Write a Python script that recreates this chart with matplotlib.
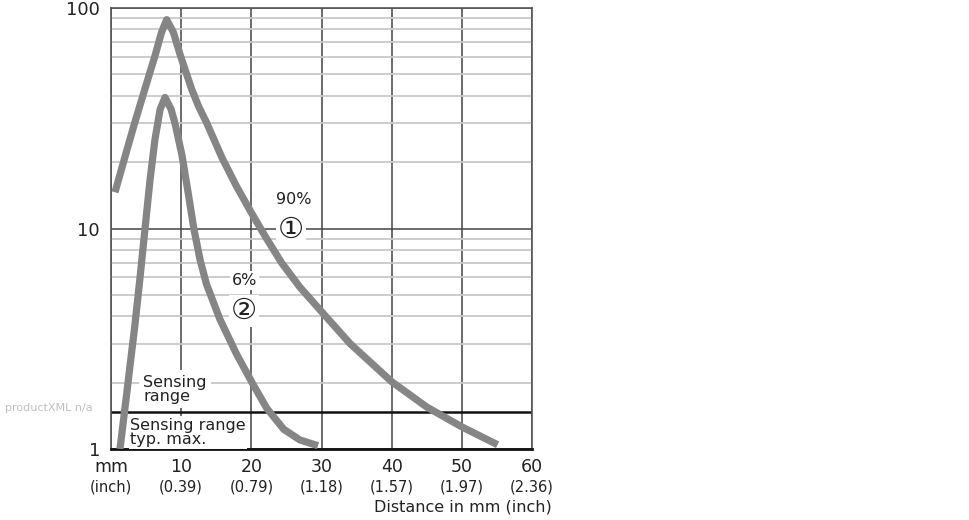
import matplotlib
matplotlib.use("Agg")
import matplotlib.pyplot as plt
from matplotlib.ticker import NullFormatter
from matplotlib.transforms import offset_copy

plt.rcParams['font.family'] = ['DejaVu Sans', 'Noto Sans CJK JP']

# Curve 1: 90% reflectance (distance mm, excess gain)
dist_90 = [0.57, 2.3, 3.4, 4.6, 6.27, 7.2, 7.93, 8.9, 9.9, 11.5, 12.5, 13.6, 15.8, 17.9, 20.0,
           21.9, 24.3, 26.9, 30.0, 34.1, 40.0, 45.0, 50.0, 55.1]
sig_90 = [14.6, 22.9, 30.3, 40.6, 60.7, 77.5, 88.5, 77.5, 60.7, 42.8, 35.7, 30.3, 21.0, 15.5, 11.8,
          9.3, 7.0, 5.43, 4.2, 3.0, 2.02, 1.55, 1.26, 1.045]

# Curve 2: 6% reflectance
dist_6 = [1.28, 2.2, 3.0, 3.4, 4.13, 4.85, 5.56, 6.27, 7.0, 7.7, 8.55, 9.1, 10.1, 11.0, 11.8,
          12.7, 13.6, 15.5, 17.9, 20.3, 22.2, 24.6, 26.9, 29.5]
sig_6 = [1.0, 1.74, 2.85, 3.63, 5.96, 10.0, 16.6, 25.4, 34.7, 39.3, 34.8, 30.2, 21.6, 14.5, 10.0,
         7.2, 5.6, 3.89, 2.69, 1.95, 1.53, 1.23, 1.10, 1.035]

threshold = 1.47

x_ticks = [0, 10, 20, 30, 40, 50, 60]
x_mm_labels = ["mm", "10", "20", "30", "40", "50", "60"]
x_inch_labels = ["(inch)", "(0.39)", "(0.79)", "(1.18)", "(1.57)", "(1.97)", "(2.36)"]
y_ticks = [1, 10, 100]
y_labels = ["1", "10", "100"]

fig = plt.figure(figsize=(9.7, 5.2), dpi=100)
ax = fig.add_axes([111/970, 71/520, 421/970, 441/520])
ax.set_yscale('log')
ax.set_xlim(0, 60)
ax.set_ylim(1, 100)

ax.set_xticks(x_ticks)
ax.set_xticklabels([])
ax.set_yticks(y_ticks)
ax.set_yticklabels(y_labels, fontsize=13, color='#222222')
ax.yaxis.set_minor_formatter(NullFormatter())
ax.tick_params(which='both', length=0)
ax.tick_params(axis='y', pad=8)
ax.grid(True, which='minor', axis='y', color='#c8c8c8', lw=1.3, zorder=0)
ax.grid(True, which='major', axis='y', color='#444444', lw=1.1, zorder=0.5)
ax.grid(True, which='major', axis='x', color='#444444', lw=1.1, zorder=0.5)

trans = ax.get_xaxis_transform()
t1 = offset_copy(trans, fig=fig, x=0, y=-18, units='dots')
t2 = offset_copy(trans, fig=fig, x=0, y=-38, units='dots')
for xv, a, b in zip(x_ticks, x_mm_labels, x_inch_labels):
    ax.text(xv, 0, a, transform=t1, fontsize=12.5, ha='center', va='center', color='#222222', clip_on=False)
    ax.text(xv, 0, b, transform=t2, fontsize=10.5, ha='center', va='center', color='#222222', clip_on=False)

for s in ['left', 'top', 'right']:
    ax.spines[s].set_color('#555555')
    ax.spines[s].set_linewidth(1.2)
ax.spines['bottom'].set_color('#111111')
ax.spines['bottom'].set_linewidth(2)

ax.axhline(threshold, color='#111111', lw=1.8, zorder=2)

ax.plot(dist_90, sig_90, color='#858585', lw=5.2, solid_capstyle='butt', solid_joinstyle='round', zorder=3)
ax.plot(dist_6, sig_6, color='#858585', lw=5.2, solid_capstyle='butt', solid_joinstyle='round', zorder=3)

wb = dict(facecolor='white', edgecolor='none', pad=1.5)
ax.text(26.1, 13.5, "90%", fontsize=11.5, ha='center', va='center', color='#222222', bbox=wb, zorder=4)
ax.text(25.6, 9.85, "①", fontsize=21, ha='center', va='center', color='#222222', bbox=wb, zorder=4)
ax.text(19.0, 5.8, "6%", fontsize=11.5, ha='center', va='center', color='#222222', bbox=wb, zorder=4)
ax.text(18.9, 4.24, "②", fontsize=21, ha='center', va='center', color='#222222', bbox=wb, zorder=4)
ax.text(4.6, 1.6, "Sensing\nrange", fontsize=11.5, ha='left', va='bottom', color='#222222',
        linespacing=0.95, bbox=dict(facecolor='white', edgecolor='none', pad=3), zorder=4)
ax.text(2.7, 1.02, "Sensing range\ntyp. max.", fontsize=11.5, ha='left', va='bottom', color='#222222',
        linespacing=0.95, bbox=dict(facecolor='white', edgecolor='none', pad=1), zorder=4)

fig.text(552/970, 1 - 507/520, "Distance in mm (inch)", fontsize=11.5, ha='right', va='center', color='#222222')
fig.text(5/970, 1 - 408/520, "productXML n/a", fontsize=8, ha='left', va='center', color='#c0c0c0')

fig.savefig("out.png", dpi=100)
